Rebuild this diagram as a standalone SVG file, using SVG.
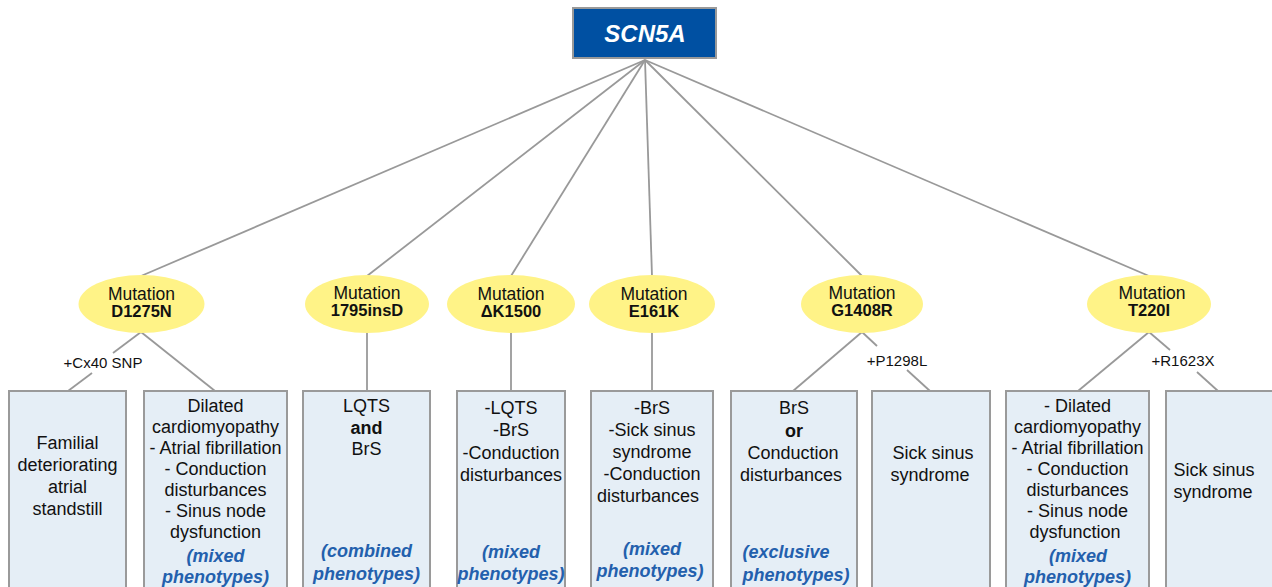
<svg xmlns="http://www.w3.org/2000/svg" width="1272" height="587" viewBox="0 0 1272 587">
<style>
.ln{stroke:#999;stroke-width:1.8;fill:none}
.ell{fill:#fff387}
.box{fill:#e5eef6;stroke:#9a9a9a;stroke-width:2}
text{font-family:"Liberation Sans",Arial,sans-serif;text-anchor:middle;fill:#111}
.mut{font-size:17.5px}
.mb{font-size:16.5px;font-weight:bold}
.t{font-size:18px}
.b{font-weight:bold}
.ph{font-size:18px;font-weight:bold;font-style:italic;fill:#2360ad}
.lab{font-size:15px}
</style>
<rect width="1272" height="587" fill="#fff"/>
<g id="connectors">
<line class="ln" x1="645" y1="60" x2="141" y2="276"/>
<line class="ln" x1="645" y1="60" x2="367" y2="276"/>
<line class="ln" x1="645" y1="60" x2="511" y2="276"/>
<line class="ln" x1="645" y1="60" x2="652" y2="276"/>
<line class="ln" x1="645" y1="60" x2="862" y2="276"/>
<line class="ln" x1="645" y1="60" x2="1149" y2="276"/>
<line class="ln" x1="141" y1="332" x2="113" y2="353"/>
<line class="ln" x1="92" y1="373" x2="68" y2="391"/>
<line class="ln" x1="141" y1="332" x2="215" y2="391"/>
<line class="ln" x1="367" y1="333" x2="367" y2="391"/>
<line class="ln" x1="511" y1="333" x2="511" y2="391"/>
<line class="ln" x1="652" y1="333" x2="652" y2="391"/>
<line class="ln" x1="862" y1="332" x2="793" y2="391"/>
<line class="ln" x1="862" y1="332" x2="877" y2="346"/>
<line class="ln" x1="907" y1="370" x2="930" y2="391"/>
<line class="ln" x1="1149" y1="332" x2="1078" y2="391"/>
<line class="ln" x1="1149" y1="332" x2="1170" y2="350"/>
<line class="ln" x1="1197" y1="372" x2="1218" y2="391"/>
<text class="lab" x="103" y="368">+Cx40 SNP</text>
<text class="lab" x="897" y="366">+P1298L</text>
<text class="lab" x="1183" y="366">+R1623X</text>
</g>
<g id="scn5a">
<rect x="573" y="8" width="143" height="50" fill="#0050a2" stroke="#999" stroke-width="2"/>
<text x="645" y="42" style="font-size:24px;font-weight:bold;font-style:italic;fill:#fff">SCN5A</text>
</g>
<g id="m-d1275n">
<ellipse class="ell" cx="141.5" cy="304" rx="63" ry="29"/>
<text class="mut" x="141.5" y="300">Mutation</text>
<text class="mb" x="141.5" y="317">D1275N</text>
</g>
<g id="m-1795insd">
<ellipse class="ell" cx="367" cy="304" rx="62" ry="29"/>
<text class="mut" x="367" y="299">Mutation</text>
<text class="mb" x="367" y="316">1795insD</text>
</g>
<g id="m-dk1500">
<ellipse class="ell" cx="511" cy="304" rx="64" ry="29"/>
<text class="mut" x="511" y="300">Mutation</text>
<text class="mb" x="511" y="317">ΔK1500</text>
</g>
<g id="m-e161k">
<ellipse class="ell" cx="652" cy="304" rx="63" ry="29"/>
<text class="mut" x="654" y="300">Mutation</text>
<text class="mb" x="654" y="317">E161K</text>
</g>
<g id="m-g1408r">
<ellipse class="ell" cx="862" cy="304" rx="61" ry="29"/>
<text class="mut" x="862" y="299">Mutation</text>
<text class="mb" x="862" y="316">G1408R</text>
</g>
<g id="m-t220i">
<ellipse class="ell" cx="1149" cy="304" rx="62" ry="29"/>
<text class="mut" x="1152" y="299">Mutation</text>
<text class="mb" x="1149" y="316">T220I</text>
</g>
<g id="box1">
<rect class="box" x="9" y="391" width="117" height="210"/>
<text class="t" x="67.5" y="449">Familial</text>
<text class="t" x="67.5" y="471">deteriorating</text>
<text class="t" x="67.5" y="493">atrial</text>
<text class="t" x="67.5" y="515">standstill</text>
</g>
<g id="box2">
<rect class="box" x="144" y="391" width="143" height="210"/>
<text class="t" x="215.5" y="412">Dilated</text>
<text class="t" x="215.5" y="433">cardiomyopathy</text>
<text class="t" x="215.5" y="454">- Atrial fibrillation</text>
<text class="t" x="215.5" y="475">- Conduction</text>
<text class="t" x="215.5" y="496">disturbances</text>
<text class="t" x="215.5" y="517">- Sinus node</text>
<text class="t" x="215.5" y="538">dysfunction</text>
<text class="ph" x="215.5" y="562">(mixed</text>
<text class="ph" x="215.5" y="583">phenotypes)</text>
</g>
<g id="box3">
<rect class="box" x="303" y="391" width="127" height="210"/>
<text class="t" x="366.5" y="412">LQTS</text>
<text class="t b" x="366.5" y="434">and</text>
<text class="t" x="366.5" y="455">BrS</text>
<text class="ph" x="366.5" y="557">(combined</text>
<text class="ph" x="366.5" y="580">phenotypes)</text>
</g>
<g id="box4">
<rect class="box" x="457" y="391" width="108" height="210"/>
<text class="t" x="511" y="414">-LQTS</text>
<text class="t" x="511" y="436">-BrS</text>
<text class="t" x="511" y="459">-Conduction</text>
<text class="t" x="511" y="481">disturbances</text>
<text class="ph" x="511" y="558">(mixed</text>
<text class="ph" x="511" y="580">phenotypes)</text>
</g>
<g id="box5">
<rect class="box" x="591" y="391" width="122" height="210"/>
<text class="t" x="652" y="414">-BrS</text>
<text class="t" x="652" y="436">-Sick sinus</text>
<text class="t" x="652" y="458">syndrome</text>
<text class="t" x="652" y="480">-Conduction</text>
<text class="t" x="648" y="502">disturbances</text>
<text class="ph" x="652" y="555">(mixed</text>
<text class="ph" x="650" y="577">phenotypes)</text>
</g>
<g id="box6">
<rect class="box" x="731" y="391" width="126" height="210"/>
<text class="t" x="794" y="414">BrS</text>
<text class="t b" x="794" y="437">or</text>
<text class="t" x="793" y="459">Conduction</text>
<text class="t" x="791" y="481">disturbances</text>
<text class="ph" x="786" y="558">(exclusive</text>
<text class="ph" x="796" y="581">phenotypes)</text>
</g>
<g id="box7">
<rect class="box" x="872" y="391" width="118" height="210"/>
<text class="t" x="933" y="459">Sick sinus</text>
<text class="t" x="930" y="481">syndrome</text>
</g>
<g id="box8">
<rect class="box" x="1006" y="391" width="143" height="210"/>
<text class="t" x="1077.5" y="412">- Dilated</text>
<text class="t" x="1077.5" y="433">cardiomyopathy</text>
<text class="t" x="1077.5" y="454">- Atrial fibrillation</text>
<text class="t" x="1077.5" y="475">- Conduction</text>
<text class="t" x="1077.5" y="496">disturbances</text>
<text class="t" x="1077.5" y="517">- Sinus node</text>
<text class="t" x="1075" y="538">dysfunction</text>
<text class="ph" x="1078" y="562">(mixed</text>
<text class="ph" x="1077.5" y="583">phenotypes)</text>
</g>
<g id="box9">
<rect class="box" x="1166" y="391" width="120" height="210"/>
<text class="t" x="1214" y="476">Sick sinus</text>
<text class="t" x="1213" y="498">syndrome</text>
</g>
</svg>
